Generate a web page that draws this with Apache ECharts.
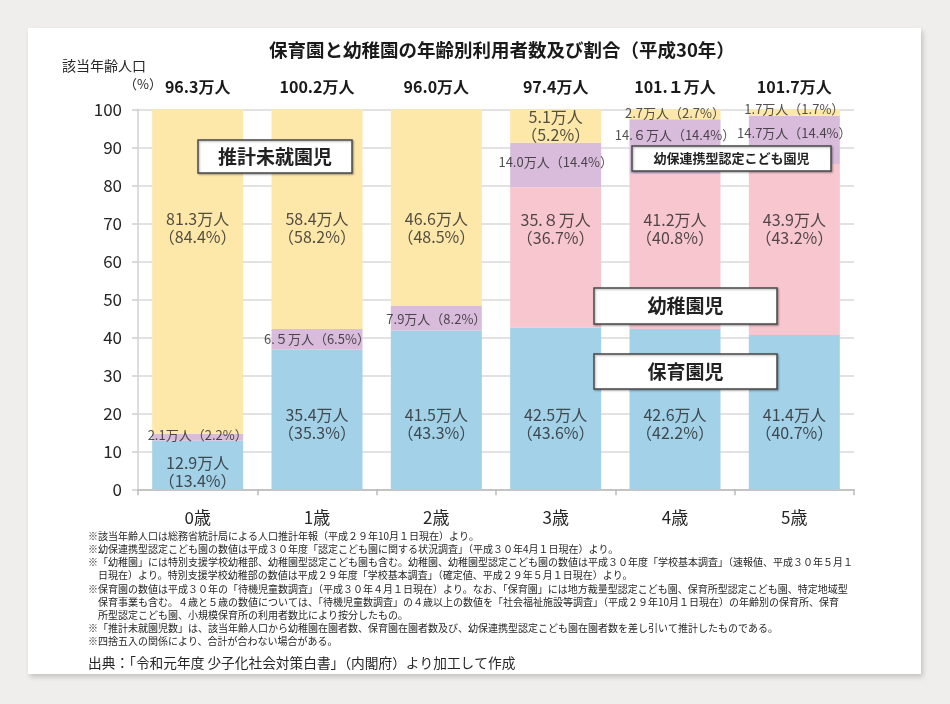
<!DOCTYPE html>
<html><head><meta charset="utf-8">
<script src="https://cdn.jsdelivr.net/npm/echarts@6/dist/echarts.min.js"></script>
<style>
html,body{margin:0;padding:0;background:#efeeec;}
#card{position:absolute;left:28px;top:28px;width:893px;height:646px;background:#fff;box-shadow:2px 3px 5px rgba(0,0,0,0.18);}
#chart{position:absolute;left:0;top:0;width:950px;height:704px;}
</style></head><body>
<div id="card"></div><div id="chart"></div>
<script>
// ---- data ----
const categories = ['0歳', '1歳', '2歳', '3歳', '4歳', '5歳'];
const totals = ['96.3万人', '100.2万人', '96.0万人', '97.4万人', '101.１万人', '101.7万人'];
const yTicks = [0, 10, 20, 30, 40, 50, 60, 70, 80, 90, 100];
// bar heights (% of age population) as drawn
const hoikuen  = [12.8, 36.7, 41.8, 42.6, 42.2, 40.6];   // 保育園児
const youchien = [0, 0, 0, 36.9, 40.8, 45.0];            // 幼稚園児
const youho    = [1.8, 5.5, 6.6, 11.7, 14.4, 12.7];      // 幼保連携型認定こども園児
const mishuen  = [85.4, 57.8, 51.6, 8.8, 2.6, 1.7];      // 推計未就園児
// label texts
const hoikuenText  = ['12.9万人\n（13.4%）', '35.4万人\n（35.3%）', '41.5万人\n（43.3%）', '42.5万人\n（43.6%）', '42.6万人\n（42.2%）', '41.4万人\n（40.7%）'];
const youchienText = ['', '', '', '35.８万人\n（36.7%）', '41.2万人\n（40.8%）', '43.9万人\n（43.2%）'];
const youhoText    = ['2.1万人（2.2%）', '6.５万人（6.5%）', '7.9万人（8.2%）', '14.0万人（14.4%）', '14.６万人（14.4%）', '14.7万人（14.4%）'];
const mishuenText  = ['81.3万人\n（84.4%）', '58.4万人\n（58.2%）', '46.6万人\n（48.5%）', '5.1万人\n（5.2%）', '2.7万人（2.7%）', '1.7万人（1.7%）'];

// ---- label layout (axis units where each label sits) ----
const labelLayout = [
  { text: hoikuenText,  at: [4.6, 17.2, 17.2, 17.2, 17.2, 17.2], size: [16,16,16,16,16,16] },
  { text: youchienText, at: [0, 0, 0, 68.6, 68.6, 68.6], size: [16,16,16,16,16,16] },
  { text: youhoText,    at: [14.4, 39.5, 44.8, 86.0, 93.2, 93.7], size: [13,13,13,13,13,13] },
  { text: mishuenText,  at: [68.8, 68.8, 68.8, 95.7, 98.9, 100.0], size: [16,16,16,16,13,13] }
];

const FONT = '"Noto Sans CJK JP", "Noto Sans", sans-serif';
const TXT = '#262626';
const colors = { hoikuen: '#a2d1e8', youchien: '#f7c6cf', youho: '#d9bcdc', mishuen: '#fde8aa' };

const labelData = [];
labelLayout.forEach(layer => {
  layer.text.forEach((t, i) => {
    if (!t) return;
    labelData.push({
      value: [i, layer.at[i]],
      label: { formatter: t, fontSize: layer.size[i] }
    });
  });
});

function bar(name, data, color) {
  return {
    name, type: 'bar', stack: 'total', data, barWidth: 91,
    itemStyle: { color }, emphasis: { disabled: true }, silent: true
  };
}

const footnotes = [
  '※該当年齢人口は総務省統計局による人口推計年報（平成２９年10月１日現在）より。',
  '※幼保連携型認定こども園の数値は平成３０年度「認定こども園に関する状況調査」（平成３０年4月１日現在）より。',
  '※「幼稚園」には特別支援学校幼稚部、幼稚園型認定こども園も含む。幼稚園、幼稚園型認定こども園の数値は平成３０年度「学校基本調査」（速報値、平成３０年５月１',
  '　日現在）より。特別支援学校幼稚部の数値は平成２９年度「学校基本調査」（確定値、平成２９年５月１日現在）より。',
  '※保育園の数値は平成３０年の「待機児童数調査」（平成３０年４月１日現在）より。なお、「保育園」には地方裁量型認定こども園、保育所型認定こども園、特定地域型',
  '　保育事業も含む。４歳と５歳の数値については、「待機児童数調査」の４歳以上の数値を「社会福祉施設等調査」（平成２９年10月１日現在）の年齢別の保育所、保育',
  '　所型認定こども園、小規模保育所の利用者数比により按分したもの。',
  '※「推計未就園児数」は、該当年齢人口から幼稚園在園者数、保育園在園者数及び、幼保連携型認定こども園在園者数を差し引いて推計したものである。',
  '※四捨五入の関係により、合計が合わない場合がある。'
];

const graphics = [];
footnotes.forEach((t, i) => {
  graphics.push({ type: 'text', left: 88, top: 531 + i * 13.2, z: 100,
    style: { text: t, font: '10px ' + FONT, fill: TXT } });
});
graphics.push({ type: 'text', left: 88, top: 656, z: 100,
  style: { text: '出典：「令和元年度 少子化社会対策白書」（内閣府）より加工して作成', font: '13.7px ' + FONT, fill: TXT } });
graphics.push({ type: 'text', left: 62, top: 59, z: 100,
  style: { text: '該当年齢人口', font: '14px ' + FONT, fill: TXT } });
graphics.push({ type: 'text', left: 124, top: 78, z: 100,
  style: { text: '（%）', font: '13px ' + FONT, fill: TXT } });

function boxRect(x, y, w, h) {
  return { type: 'rect', z: 100, shape: { x, y, width: w, height: h },
    style: { fill: '#fff', stroke: '#4a4a4a', lineWidth: 1.5,
             shadowBlur: 2, shadowOffsetX: 1, shadowOffsetY: 1, shadowColor: 'rgba(0,0,0,0.3)' } };
}
function boxText(x, y, w, h, text, size) {
  return { type: 'text', z: 101, x: x + w / 2, y: y + h / 2,
    style: { text, font: 'bold ' + size + 'px ' + FONT, fill: '#222', align: 'center', verticalAlign: 'middle' } };
}
[[198, 140, 154, 33, '推計未就園児', 19],
 [632, 146, 199, 25, '幼保連携型認定こども園児', 13],
 [594, 288, 183, 36, '幼稚園児', 19],
 [594, 354, 183, 35, '保育園児', 19]].forEach(b => {
  graphics.push(boxRect(b[0], b[1], b[2], b[3]));
  graphics.push(boxText(b[0], b[1], b[2], b[3], b[4], b[5]));
});

const chart = echarts.init(document.getElementById('chart'), null, { renderer: 'canvas' });
chart.setOption({
  backgroundColor: 'transparent',
  animation: false,
  textStyle: { fontFamily: FONT },
  title: {
    text: '保育園と幼稚園の年齢別利用者数及び割合（平成30年）',
    left: 264, top: 36,
    textStyle: { fontSize: 18.5, fontWeight: 'bold', color: '#1a1a1a', fontFamily: FONT }
  },
  grid: { left: 138, right: 96, top: 109.3, bottom: 214.7, containLabel: false },
  xAxis: [
    {
      type: 'category', data: categories, position: 'bottom',
      axisLine: { show: true, lineStyle: { color: '#bbb', width: 1.5 } },
      axisTick: { show: true, alignWithLabel: false, length: 6, lineStyle: { color: '#bbb', width: 1.5 } },
      axisLabel: { fontSize: 17, color: TXT, margin: 20 }
    },
    {
      type: 'category', data: totals, position: 'top',
      axisLine: { show: false }, axisTick: { show: false },
      axisLabel: { fontSize: 16, fontWeight: 'bold', color: '#1a1a1a', margin: 14 }
    }
  ],
  yAxis: {
    type: 'value', min: yTicks[0], max: yTicks[yTicks.length - 1], interval: 10,
    axisLine: { show: true, lineStyle: { color: '#d0d0d0', width: 1.5 } },
    axisTick: { show: true, length: 6, lineStyle: { color: '#d0d0d0', width: 1.5 } },
    axisLabel: { fontSize: 17, color: TXT, margin: 16 },
    splitLine: { lineStyle: { color: '#d9d9d9', width: 1.5 } }
  },
  series: [
    bar('保育園児', hoikuen, colors.hoikuen),
    bar('幼稚園児', youchien, colors.youchien),
    bar('幼保連携型認定こども園児', youho, colors.youho),
    bar('推計未就園児', mishuen, colors.mishuen),
    {
      type: 'scatter', data: labelData, symbolSize: 1, silent: true, z: 5, clip: false,
      itemStyle: { color: 'rgba(0,0,0,0)' },
      label: { show: true, position: 'inside', color: TXT, lineHeight: 18, fontFamily: FONT }
    }
  ],
  graphic: graphics
});
</script>
</body></html>
